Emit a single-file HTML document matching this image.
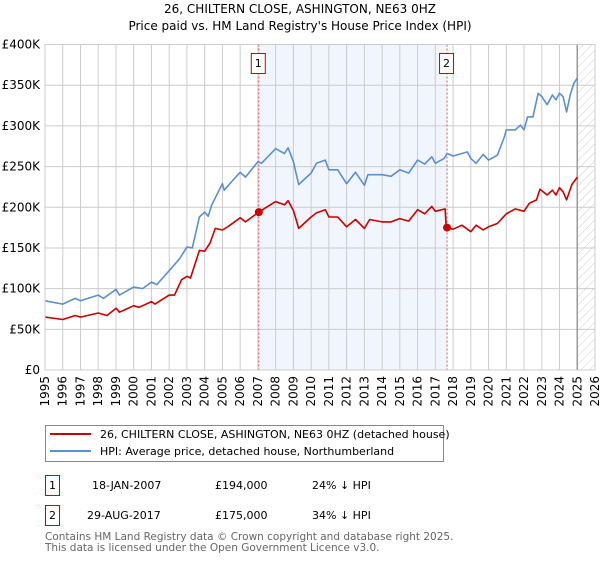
<!DOCTYPE html>
<html><head><meta charset="utf-8"><style>
body{margin:0;background:#fff;font-family:"DejaVu Sans","Liberation Sans",sans-serif}
svg text{font-family:"DejaVu Sans","Liberation Sans",sans-serif}
</style></head><body>
<svg id="c" width="600" height="560" xmlns="http://www.w3.org/2000/svg">
<defs><pattern id="hatch" width="6" height="6" patternUnits="userSpaceOnUse" patternTransform="rotate(45)"><line x1="0" y1="0" x2="0" y2="6" stroke="#ccc" stroke-width="1"/></pattern></defs>
<text x="300" y="13" text-anchor="middle" font-size="12">26, CHILTERN CLOSE, ASHINGTON, NE63 0HZ</text>
<text x="300" y="30" text-anchor="middle" font-size="12">Price paid vs. HM Land Registry's House Price Index (HPI)</text>
<g id="plot"></g>
<g>
<rect x="45.5" y="425.5" width="398" height="36" fill="#fff" stroke="#888"/>
<line x1="50" y1="434" x2="91" y2="434" stroke="#cc0000" stroke-width="2"/>
<text x="100" y="438" font-size="11">26, CHILTERN CLOSE, ASHINGTON, NE63 0HZ (detached house)</text>
<line x1="50" y1="451" x2="91" y2="451" stroke="#5b8fd0" stroke-width="2"/>
<text x="100" y="455" font-size="11">HPI: Average price, detached house, Northumberland</text>
</g>
<g font-size="11">
<rect x="45.5" y="475.5" width="14" height="20" fill="#fff" stroke="#cc0000"/>
<text x="52.5" y="489" text-anchor="middle">1</text>
<text x="92" y="489">18-JAN-2007</text><text x="215" y="489">£194,000</text><text x="312" y="489">24% ↓ HPI</text>
<rect x="45.5" y="505.5" width="14" height="20" fill="#fff" stroke="#cc0000"/>
<text x="52.5" y="519" text-anchor="middle">2</text>
<text x="87" y="519">29-AUG-2017</text><text x="215" y="519">£175,000</text><text x="312" y="519">34% ↓ HPI</text>
</g>
<text x="45" y="540" font-size="10.5" fill="#666">Contains HM Land Registry data © Crown copyright and database right 2025.</text>
<text x="45" y="551" font-size="10.5" fill="#666">This data is licensed under the Open Government Licence v3.0.</text>
</svg>
<script>
const yTicks=[0,50,100,150,200,250,300,350,400];
const yLabels=["£0","£50K","£100K","£150K","£200K","£250K","£300K","£350K","£400K"];
const xYears=[1995,1996,1997,1998,1999,2000,2001,2002,2003,2004,2005,2006,2007,2008,2009,2010,2011,2012,2013,2014,2015,2016,2017,2018,2019,2020,2021,2022,2023,2024,2025,2026];
const hpiT=[1995,1996,1996.7,1997,1998,1998.3,1999,1999.2,2000,2000.5,2001,2001.3,2002,2002.6,2003,2003.3,2003.7,2004,2004.2,2004.4,2005,2005.1,2005.5,2006,2006.3,2007,2007.2,2008,2008.5,2008.7,2009,2009.3,2010,2010.3,2010.8,2011,2011.5,2012,2012.5,2013,2013.2,2014,2014.5,2015,2015.5,2016,2016.4,2016.8,2017,2017.5,2017.66,2018,2018.5,2018.8,2019,2019.3,2019.7,2020,2020.5,2020.9,2021,2021.5,2021.8,2022,2022.2,2022.5,2022.8,2023,2023.3,2023.6,2023.8,2024,2024.2,2024.4,2024.6,2024.8,2025];
const hpiV=[85,81,88,85,92,88,99,92,102,100,108,105,122,137,151,150,188,194,189,203,229,221,231,243,237,256,254,272,266,273,256,228,242,254,258,246,246,229,243,227,240,240,238,246,242,258,253,262,254,260,266,263,266,268,260,254,265,258,264,287,295,295,301,295,311,311,340,336,326,338,332,340,336,317,338,352,359];
const ppT=[1995,1996,1996.7,1997,1998,1998.5,1999,1999.2,2000,2000.3,2001,2001.2,2002,2002.3,2002.7,2003,2003.2,2003.7,2004,2004.3,2004.6,2005,2005.3,2006,2006.3,2007.05,2008,2008.5,2008.7,2009,2009.3,2010,2010.3,2010.8,2011,2011.5,2012,2012.5,2013,2013.3,2014,2014.5,2015,2015.5,2016,2016.4,2016.8,2017,2017.55,2017.6,2017.66,2018,2018.5,2019,2019.3,2019.7,2020,2020.5,2021,2021.5,2022,2022.3,2022.7,2022.9,2023.3,2023.6,2023.8,2024,2024.2,2024.4,2024.7,2025];
const ppV=[65,62,67,65,70,67,76,71,79,77,84,81,92,92,111,115,113,147,146,156,174,172,176,187,182,194,207,203,208,196,174,188,193,197,188,188,176,185,174,185,182,182,186,183,197,192,201,195,198,180,175,173,178,170,178,172,176,180,192,198,195,205,209,222,215,221,215,224,219,209,228,237];
const saleT=[2007.05,2017.66];
const saleV=[194,175];
const saleLbl=["1","2"];
const L=45,R=595,T=44.5,B=370;
const xs=t=>L+(t-1995)/31*(R-L);
const ys=v=>B-v/400*(B-T);
const NS="http://www.w3.org/2000/svg";
const g=document.getElementById('plot');
function mk(tag,a,p){const e=document.createElementNS(NS,tag);for(const k in a)e.setAttribute(k,a[k]);(p||g).appendChild(e);return e;}
let e=mk('rect',{x:xs(saleT[0]),y:T,width:xs(saleT[1])-xs(saleT[0]),height:B-T,fill:'#eef2fc',opacity:0.8});


e=mk('rect',{x:xs(2025),y:T,width:R-xs(2025),height:B-T,fill:'url(#hatch)'});


yTicks.forEach((v,i)=>{
 let l=mk('line',{x1:L,x2:R,y1:ys(v),y2:ys(v),stroke:'#ccc'});
 
 
 let t=mk('text',{x:L-5,y:ys(v)+4,'text-anchor':'end','font-size':'12'});
 t.textContent=yLabels[i];
 
 
});
xYears.forEach(y=>{
 let l=mk('line',{x1:xs(y),x2:xs(y),y1:T,y2:B,stroke:'#ccc'});
 
 
 let t=mk('text',{x:xs(y)+4,y:B+6,'font-size':'12','text-anchor':'end',transform:`rotate(-90 ${xs(y)+4} ${B+6})`});
 t.textContent=y;
 
 
});
e=mk('line',{x1:xs(2025),x2:xs(2025),y1:T,y2:B,stroke:'#999','stroke-width':1.5});


saleT.forEach((t,i)=>{
 let l=mk('line',{x1:xs(t),x2:xs(t),y1:T,y2:B,stroke:'#e05050','stroke-dasharray':'2,2'});
 
 
 let r=mk('rect',{x:xs(t)-7.5,y:53.5,width:14,height:20,fill:'#fff',stroke:'#cc0000'});
 
 
 let tx=mk('text',{x:xs(t)-0.5,y:67,'text-anchor':'middle','font-size':'11'});
 tx.textContent=saleLbl[i];
 
 
});
function line(T_,V,c,n){const d=T_.map((t,i)=>(i?'L':'M')+xs(t).toFixed(1)+','+ys(V[i]).toFixed(1)).join('');
 const p=mk('path',{d:d,fill:'none',stroke:c,'stroke-width':1.6,'stroke-linejoin':'round'});
 
 }
line(hpiT,hpiV,'#5b8fd0','hpi-line');
line(ppT,ppV,'#cc0000','property-line');
saleT.forEach((t,i)=>{
 let c=mk('circle',{cx:xs(t),cy:ys(saleV[i]),r:4,fill:'#cc0000'});
 
 
});
e=mk('rect',{x:L,y:T,width:R-L,height:B-T,fill:'none',stroke:'#ccc'});


</script>
</body></html>
